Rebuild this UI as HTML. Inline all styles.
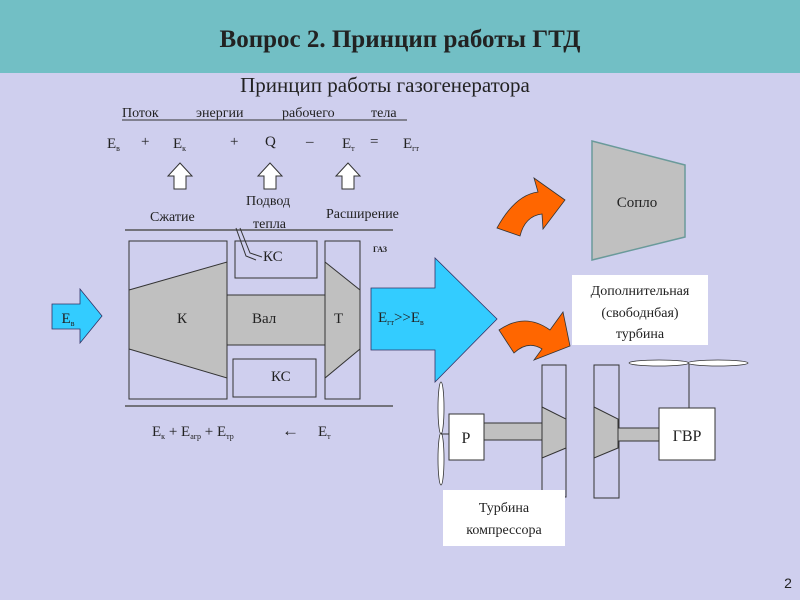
<!DOCTYPE html>
<html><head><meta charset="utf-8"><style>
body{margin:0;width:800px;height:600px;overflow:hidden;background:#cfcfee}
svg{display:block}
text{font-family:"Liberation Serif",serif;fill:#222}
</style></head><body>
<svg width="800" height="600" viewBox="0 0 800 600">
<rect x="0" y="0" width="800" height="600" fill="#cfcfee"/>
<rect x="0" y="0" width="800" height="73" fill="#72bfc5"/>
<text x="400" y="47" text-anchor="middle" font-size="25" font-weight="bold" fill="#111">Вопрос 2. Принцип работы ГТД</text>
<text x="385" y="92" text-anchor="middle" font-size="21">Принцип работы газогенератора</text>

<text x="122" y="117" font-size="14">Поток</text>
<text x="196" y="117" font-size="14">энергии</text>
<text x="282" y="117" font-size="14">рабочего</text>
<text x="371" y="117" font-size="14">тела</text>
<line x1="122" y1="120" x2="407" y2="120" stroke="#333" stroke-width="1"/>

<g font-size="15">
<text x="107" y="148">Е<tspan font-size="8" dy="3">в</tspan></text>
<text x="141" y="146">+</text>
<text x="173" y="148">Е<tspan font-size="8" dy="3">к</tspan></text>
<text x="230" y="146">+</text>
<text x="265" y="146">Q</text>
<text x="306" y="146">–</text>
<text x="342" y="148">Е<tspan font-size="8" dy="3">т</tspan></text>
<text x="370" y="146">=</text>
<text x="403" y="148">Е<tspan font-size="8" dy="3">гт</tspan></text>
</g>
<g fill="#fff" stroke="#333" stroke-width="1">
<path d="M180,163 L192,176 L186,176 L186,189 L174,189 L174,176 L168,176 Z"/>
<path d="M270,163 L282,176 L276,176 L276,189 L264,189 L264,176 L258,176 Z"/>
<path d="M348,163 L360,176 L354,176 L354,189 L342,189 L342,176 L336,176 Z"/>
</g>
<g font-size="14" font-family="Liberation Sans">
<text x="150" y="221" style="font-family:'Liberation Serif',serif">Сжатие</text>
<text x="246" y="205">Подвод</text>
<text x="253" y="228">тепла</text>
<text x="326" y="218">Расширение</text>
</g>

<line x1="125" y1="230" x2="393" y2="230" stroke="#555" stroke-width="1.5"/>
<line x1="125" y1="406" x2="393" y2="406" stroke="#555" stroke-width="1.5"/>
<g stroke="#333" stroke-width="1" fill="none">
<rect x="129" y="241" width="98" height="158"/>
<rect x="235" y="241" width="82" height="37"/>
<rect x="325" y="241" width="35" height="158"/>
<rect x="233" y="359" width="83" height="38"/>
</g>
<g fill="#c0c0c0" stroke="#333" stroke-width="1">
<path d="M129,290 L227,262 L227,378 L129,349 Z"/>
<rect x="227" y="295" width="98" height="50"/>
<path d="M325,262 L360,290 L360,349 L325,378 Z"/>
</g>
<path d="M236,228 L246,256 L256,260 M240,228 L250,253 L262,257" stroke="#333" fill="none"/>
<text x="263" y="261" font-size="15">КС</text>
<text x="271" y="381" font-size="15">КС</text>
<text x="177" y="323" font-size="15">К</text>
<text x="252" y="323" font-size="15">Вал</text>
<text x="334" y="323" font-size="15">Т</text>
<text x="373" y="252" font-size="8" font-weight="bold">ГАЗ</text>

<path d="M52,304 L80,304 L80,289 L102,316 L80,343 L80,329 L52,329 Z" fill="#33ccff" stroke="#336" stroke-width="0.8"/>
<text x="68" y="323" font-size="15" text-anchor="middle">Е<tspan font-size="8" dy="3">в</tspan></text>
<path d="M371,288 L435,288 L435,258 L497,319 L435,382 L435,350 L371,350 Z" fill="#33ccff" stroke="#336" stroke-width="0.8"/>
<text x="378" y="322" font-size="15">Е<tspan font-size="8" dy="3">гт</tspan><tspan dy="-3">&gt;&gt;Е</tspan><tspan font-size="8" dy="3">в</tspan></text>

<text x="152" y="436" font-size="15">Е<tspan font-size="8" dy="3">к</tspan><tspan dy="-3"> + Е</tspan><tspan font-size="8" dy="3">агр</tspan><tspan dy="-3"> + Е</tspan><tspan font-size="8" dy="3">тр</tspan></text>
<text x="282" y="436" font-size="17">←</text>
<text x="318" y="436" font-size="15">Е<tspan font-size="8" dy="3">т</tspan></text>

<path d="M592,141 L685,165 L685,237 L592,260 Z" fill="#c0c0c0" stroke="#6a9a9a" stroke-width="1.5"/>
<text x="637" y="207" font-size="15" text-anchor="middle">Сопло</text>

<path d="M497,228 Q515,195 538,192 L534,178 L565,200 L543,229 L542,214 Q525,216 520,236 Z" fill="#ff6600" stroke="#333" stroke-width="0.8"/>
<path d="M499,330 Q525,312 550,330 L563,312 L570,346 L534,360 L542,349 Q528,340 514,353 Z" fill="#ff6600" stroke="#333" stroke-width="0.8"/>

<rect x="572" y="275" width="136" height="70" fill="#fff"/>
<text x="640" y="295" font-size="14" text-anchor="middle">Дополнительная</text>
<text x="640" y="317" font-size="14" text-anchor="middle">(свободнбая)</text>
<text x="640" y="338" font-size="14" text-anchor="middle">турбина</text>

<rect x="542" y="365" width="24" height="132" fill="none" stroke="#333"/>
<rect x="594" y="365" width="25" height="133" fill="none" stroke="#333"/>
<rect x="484" y="423" width="58" height="17" fill="#c0c0c0" stroke="#333"/>
<rect x="618" y="428" width="41" height="13" fill="#c0c0c0" stroke="#333"/>
<path d="M542,407 L566,419 L566,448 L542,458 Z" fill="#c0c0c0" stroke="#333"/>
<path d="M594,407 L618,419 L618,448 L594,458 Z" fill="#c0c0c0" stroke="#333"/>
<rect x="449" y="414" width="35" height="46" fill="#fff" stroke="#333"/>
<text x="466" y="443" font-size="16" text-anchor="middle">Р</text>
<rect x="659" y="408" width="56" height="52" fill="#fff" stroke="#333"/>
<text x="687" y="441" font-size="16" text-anchor="middle">ГВР</text>
<line x1="689" y1="363" x2="689" y2="408" stroke="#333"/>
<ellipse cx="659" cy="363" rx="30" ry="3" fill="#fff" stroke="#333" stroke-width="0.8"/>
<ellipse cx="718" cy="363" rx="30" ry="3" fill="#fff" stroke="#333" stroke-width="0.8"/>
<ellipse cx="441" cy="408" rx="3" ry="26" fill="#fff" stroke="#333" stroke-width="0.8"/>
<ellipse cx="441" cy="459" rx="3" ry="26" fill="#fff" stroke="#333" stroke-width="0.8"/>
<line x1="441" y1="434" x2="449" y2="434" stroke="#333"/>
<rect x="443" y="490" width="122" height="56" fill="#fff"/>
<text x="504" y="512" font-size="14" text-anchor="middle">Турбина</text>
<text x="504" y="534" font-size="14" text-anchor="middle">компрессора</text>

<text x="788" y="588" font-size="14" text-anchor="middle" style="font-family:'Liberation Sans',sans-serif">2</text>
</svg>
</body></html>
